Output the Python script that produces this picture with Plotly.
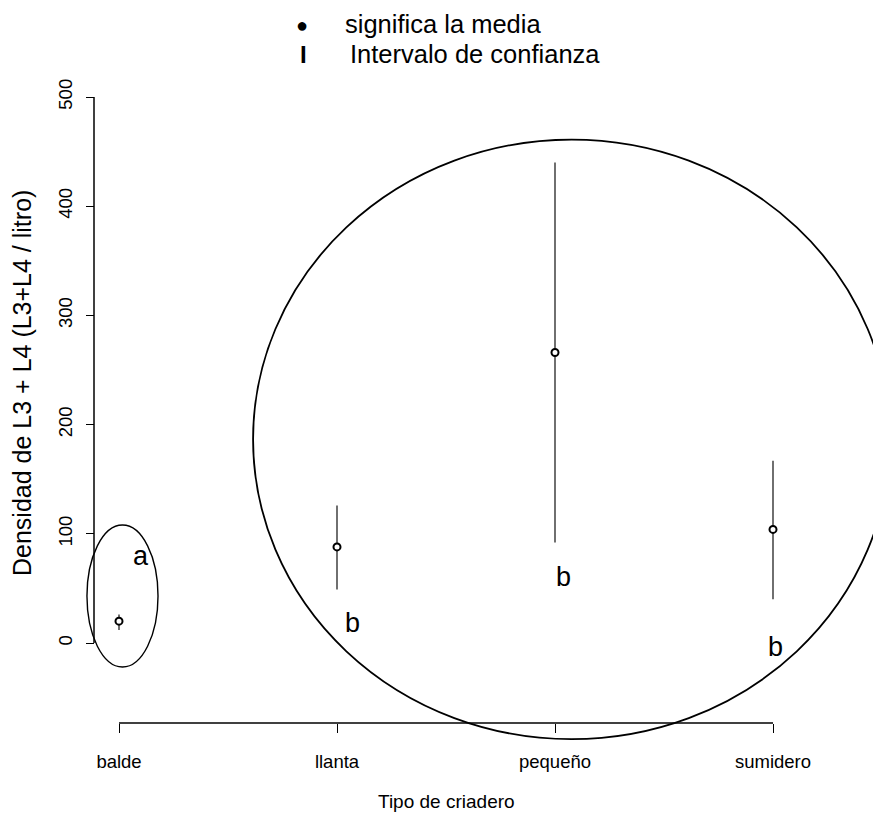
import plotly.graph_objects as go

# ---------------- data ----------------
categories = ["balde", "llanta", "pequeño", "sumidero"]
cat_pos = [0, 1, 2, 3]
means = [20, 88, 266, 104]
ci_low = [12, 49, 92, 40]
ci_high = [26, 126, 440, 167]
y_ticks = [0, 100, 200, 300, 400, 500]

group_letters = ["a", "b", "b", "b"]
letter_x = [0.10, 1.07, 2.04, 3.01]
letter_y = [80, 18, 60, -4]

# group ellipses (data coordinates: x0, x1, y0, y1)
ellipse_a = [-0.147, 0.179, -22, 108]
ellipse_b = [0.615, 3.537, -88, 461]

legend_lines = ["significa la media", "Intervalo de confianza"]
legend_symbols = ["●", "<b>I</b>"]

x_title = "Tipo de criadero"
y_title = "Densidad de L3 + L4 (L3+L4 / litro)"

# ---------------- layout geometry (page pixels) ----------------
OFF = 8                      # page body margin
PAGE_W, PAGE_H = 881, 813
W, H = PAGE_W - OFF, PAGE_H - OFF
PL, PR, PT, PB = 80, 881, 85, 750   # plot area in page pixels
ML, MR, MT, MB = PL - OFF, PAGE_W - PR, PT - OFF, PAGE_H - PB
PW = PR - PL
PH = PB - PT

def px_x(p):
    return (p - PL) / PW

def px_y(p):
    return (PB - p) / PH

XAX_POS = px_y(723)     # paper y of x-axis line
YAX_POS = px_x(94)      # paper x of y-axis line

FONT = "Liberation Sans, Arial, Helvetica, sans-serif"

fig = go.Figure()

fig.add_trace(go.Scatter(
    x=cat_pos, y=means, mode="markers",
    marker=dict(symbol="circle", size=7, color="white",
                line=dict(color="black", width=2)),
    error_y=dict(type="data", symmetric=False,
                 array=[h - m for h, m in zip(ci_high, means)],
                 arrayminus=[m - l for m, l in zip(means, ci_low)],
                 width=0, thickness=1.3, color="#222222"),
    showlegend=False, hoverinfo="skip",
))

shapes = []
shapes.append(dict(type="line", xref="paper", yref="y",
                   x0=YAX_POS, x1=YAX_POS, y0=y_ticks[0], y1=y_ticks[-1],
                   line=dict(color="black", width=1.5)))
shapes.append(dict(type="line", xref="x", yref="paper",
                   x0=cat_pos[0], x1=cat_pos[-1], y0=XAX_POS, y1=XAX_POS,
                   line=dict(color="black", width=1.5)))
for e, lw in ((ellipse_a, 1.4), (ellipse_b, 1.8)):
    shapes.append(dict(type="circle", xref="x", yref="y",
                       x0=e[0], x1=e[1], y0=e[2], y1=e[3],
                       line=dict(color="black", width=lw)))

annotations = []
for lx, ly, t in zip(letter_x, letter_y, group_letters):
    annotations.append(dict(x=lx, y=ly, xref="x", yref="y", text=t,
                            xanchor="center", yanchor="middle",
                            showarrow=False, font=dict(size=27, color="black", family=FONT)))

def txt(xp, yp, text, size, xanchor="center", angle=0):
    annotations.append(dict(x=px_x(xp), y=px_y(yp), xref="paper", yref="paper",
                            text=text, showarrow=False, textangle=angle,
                            xanchor=xanchor, yanchor="middle",
                            font=dict(size=size, color="black", family=FONT)))

legend_y = [24, 54]
txt(302, legend_y[0] + 1, legend_symbols[0], 20)
txt(303, legend_y[1], legend_symbols[1], 24)
txt(343, legend_y[0], legend_lines[0], 25.5, xanchor="left")
txt(348, legend_y[1], legend_lines[1], 25.5, xanchor="left")

txt(446, 801, x_title, 19)
txt(22, 383, y_title, 25, angle=-90)

fig.update_layout(
    width=W, height=H,
    margin=dict(l=ML, r=MR, t=MT, b=MB, pad=0),
    paper_bgcolor="white", plot_bgcolor="white",
    font=dict(family=FONT, color="black"),
    shapes=shapes, annotations=annotations,
    xaxis=dict(range=[(PL - 119) / 218, (PR - 119) / 218],
               tickmode="array", tickvals=cat_pos, ticktext=categories,
               ticks="outside", ticklen=9, tickwidth=1.3, tickcolor="black",
               showline=False, showgrid=False, zeroline=False,
               anchor="free", position=XAX_POS,
               tickfont=dict(size=18.5, family=FONT, color="black"),
               ticklabelstandoff=13),
    yaxis=dict(range=[(643 - PB) / 1.092, (643 - PT) / 1.092],
               tickmode="array", tickvals=y_ticks,
               tickangle=-90,
               ticks="outside", ticklen=8, tickwidth=1.3, tickcolor="black",
               showline=False, showgrid=False, zeroline=False,
               anchor="free", position=YAX_POS,
               tickfont=dict(size=18.5, family=FONT, color="black"),
               ticklabelstandoff=7),
)

fig.write_html("out.html")
